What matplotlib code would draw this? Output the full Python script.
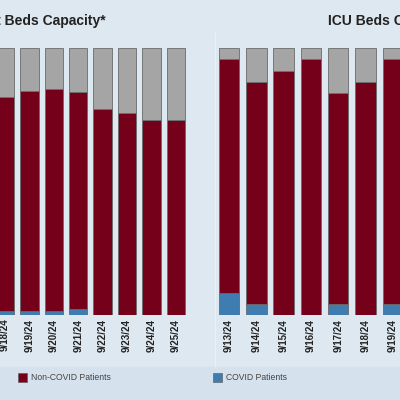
import matplotlib
matplotlib.use("Agg")
import matplotlib.pyplot as plt
import numpy as np

plt.rcParams['font.family'] = ['Liberation Sans', 'DejaVu Sans']

# inpatient beds, percent of capacity (left panel, only the visible days)
inpatient_dates = ['9/18/24', '9/19/24', '9/20/24', '9/21/24',
                   '9/22/24', '9/23/24', '9/24/24', '9/25/24']
inpatient_covid = [1.2, 1.2, 1.2, 2.0, 0, 0, 0, 0]
inpatient_occupied = [81.8, 83.9, 84.7, 83.7, 77.1, 75.6, 73.2, 73.2]
inpatient_capacity = 100

# ICU beds (right panel, only the visible days)
icu_dates = ['9/13/24', '9/14/24', '9/15/24', '9/16/24',
             '9/17/24', '9/18/24', '9/19/24']
icu_covid = [2, 1, 0, 0, 1, 0, 1]
icu_occupied = [23, 21, 22, 23, 20, 21, 23]
icu_capacity = 24

RED = '#74001a'
BLUE = '#3f7db0'
GREY = '#a5a5a5'
EDGE = '#6a6a6a'
BG = '#dde8f1'

fig = plt.figure(figsize=(4, 4), dpi=100, facecolor=BG)
# lower band behind the legend
fig.patches.append(plt.Rectangle((0, 0), 1, 33 / 400, transform=fig.transFigure,
                                 color='#d5e2ed', zorder=0))
fig.add_artist(plt.Line2D([215 / 400, 215 / 400], [34 / 400, 367 / 400],
                          color='#e9f0f6', lw=0.8))


def draw_panel(ax, dates, covid, occupied, capacity):
    x = np.arange(len(dates))
    covid = np.array(covid, dtype=float)
    occupied = np.array(occupied, dtype=float)
    non_covid = occupied - covid
    free = capacity - occupied
    kw = dict(width=0.75, edgecolor=EDGE, linewidth=0.6)
    ax.bar(x, covid, color=BLUE, **kw)
    ax.bar(x, non_covid, bottom=covid, color=RED, **kw)
    ax.bar(x, free, bottom=occupied, color=GREY, **kw)
    ax.set_ylim(0, capacity)
    ax.set_xticks(x)
    ax.set_xticklabels(dates, rotation=90, fontsize=7, fontweight='bold',
                       color='#222222')
    ax.tick_params(axis='x', length=0, pad=3)
    ax.set_yticks([])
    for s in ax.spines.values():
        s.set_visible(False)
    ax.patch.set_alpha(0)


# left panel: first bar is cut by the figure edge
ax1 = fig.add_axes([0, 85.5 / 400, 200 / 400, 266.2 / 400])
draw_panel(ax1, inpatient_dates, inpatient_covid, inpatient_occupied,
           inpatient_capacity)
ax1.set_xlim(-5 / 24.4, -5 / 24.4 + 200 / 24.4)

# right panel
ax2 = fig.add_axes([205 / 400, 85 / 400, 195 / 400, 266.7 / 400])
draw_panel(ax2, icu_dates, icu_covid, icu_occupied, icu_capacity)
ax2.set_xlim(-24 / 27.3, -24 / 27.3 + 195 / 27.3)

fig.text(106 / 400, 1 - 21 / 400, 'Inpatient Beds Capacity*', ha='right',
         va='center', fontsize=10, fontweight='bold', color='#222222')
fig.text(328 / 400, 1 - 21 / 400, 'ICU Beds Capacity*', ha='left',
         va='center', fontsize=10, fontweight='bold', color='#222222')

# legend
fig.patches.append(plt.Rectangle((18.3 / 400, 1 - 382.3 / 400), 9 / 400, 9 / 400,
                                 transform=fig.transFigure, facecolor=RED,
                                 edgecolor='#555555', lw=0.4))
fig.text(31 / 400, 1 - 377.8 / 400, 'Non-COVID Patients', ha='left',
         va='center', fontsize=6.2, color='#444444')
fig.patches.append(plt.Rectangle((212.7 / 400, 1 - 382.3 / 400), 9.5 / 400, 9 / 400,
                                 transform=fig.transFigure, facecolor=BLUE,
                                 edgecolor='#555555', lw=0.4))
fig.text(226.3 / 400, 1 - 377.8 / 400, 'COVID Patients', ha='left',
         va='center', fontsize=6.2, color='#444444')

fig.savefig('out.png', dpi=100, facecolor=BG)
